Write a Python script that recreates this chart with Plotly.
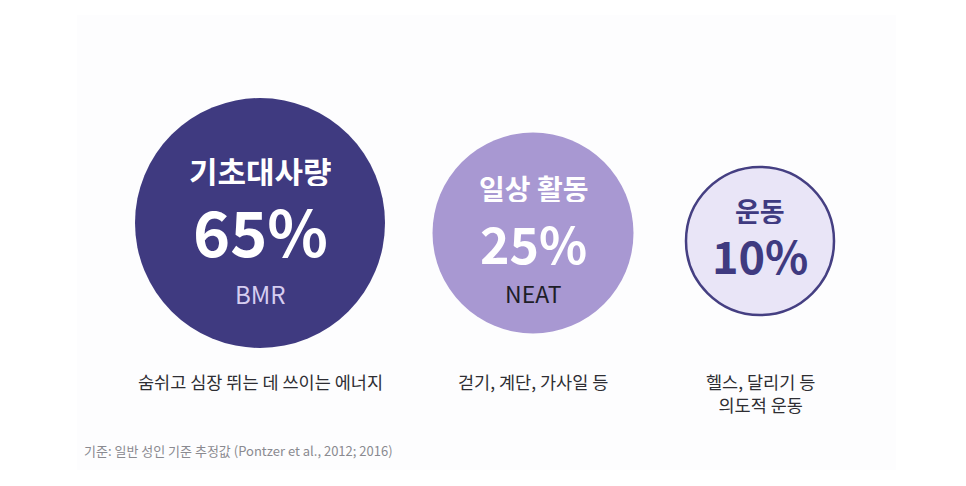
import plotly.graph_objects as go

# data
names_ko = ["기초대사량", "일상 활동", "운동"]
shares = [65, 25, 10]
abbrevs = ["BMR", "NEAT", ""]
descriptions = ["숨쉬고 심장 뛰는 데 쓰이는 에너지", "걷기, 계단, 가사일 등", "헬스, 달리기 등<br>의도적 운동"]
footnote = "기준: 일반 성인 기준 추정값 (Pontzer et al., 2012; 2016)"

# layout (pixel space)
W, H = 966, 486
cx = [260, 533, 760]
cy = [223, 233, 241]
diam = [250, 201, 148]
fills = ["#3f3a80", "#a898d2", "#e9e5f7"]
edges = ["#3f3a80", "#a898d2", "#453f82"]
edge_w = [0, 0, 2.5]

FONT = "Noto Sans CJK KR"

fig = go.Figure()

# very faint background panel
fig.add_shape(type="rect", x0=77, x1=896, y0=15, y1=470,
              fillcolor="#fdfdfe", line_width=0, layer="below")

fig.add_trace(go.Scatter(
    x=cx, y=cy, mode="markers",
    marker=dict(size=diam, color=fills,
                line=dict(color=edges, width=edge_w), opacity=1),
    hoverinfo="skip", showlegend=False,
))

name_style = [(31, "white", -53), (28, "white", -45), (27, "#3f3a80", -31)]
pct_style = [(63, "white", 6), (50, "white", 9), (45, "#3f3a80", 13)]
abbr_style = [(24, "#d6cdf0", 70), (23, "#1e1e28", 59), (20, "#3f3a80", 50)]

for i in range(3):
    s, c, dy = name_style[i]
    fig.add_annotation(x=cx[i], y=cy[i] + dy, text=names_ko[i], showarrow=False,
                       height=s, font=dict(family=FONT, size=s, color=c, weight=700))
    s, c, dy = pct_style[i]
    fig.add_annotation(x=cx[i], y=cy[i] + dy, text=f"{shares[i]}%", showarrow=False,
                       height=s, font=dict(family=FONT, size=s, color=c, weight=700))
    if abbrevs[i]:
        s, c, dy = abbr_style[i]
        fig.add_annotation(x=cx[i], y=cy[i] + dy, text=abbrevs[i], showarrow=False,
                           height=s, font=dict(family=FONT, size=s, color=c))
    # two-line description is centred a bit lower
    y_desc = 393 if "<br>" in descriptions[i] else 381
    fig.add_annotation(x=cx[i], y=y_desc, text=descriptions[i], showarrow=False,
                       font=dict(family=FONT, size=17.5, color="#2e2e33"))

fig.add_annotation(x=82, y=450, xanchor="left", text=footnote, showarrow=False,
                   font=dict(family=FONT, size=13, color="#8a8a90"))

fig.update_xaxes(range=[0, W], visible=False, fixedrange=True)
fig.update_yaxes(range=[H, 0], visible=False, fixedrange=True)
fig.update_layout(
    width=W, height=H, margin=dict(l=0, r=0, t=0, b=0),
    paper_bgcolor="white", plot_bgcolor="white",
)

fig.write_html("out.html", config={"displayModeBar": False})

# drop the default page margin so the figure sits at the window's corner
with open("out.html", encoding="utf-8") as f:
    html = f.read()
html = html.replace("<head>", "<head><style>body{margin:0;}</style>", 1)
with open("out.html", "w", encoding="utf-8") as f:
    f.write(html)
